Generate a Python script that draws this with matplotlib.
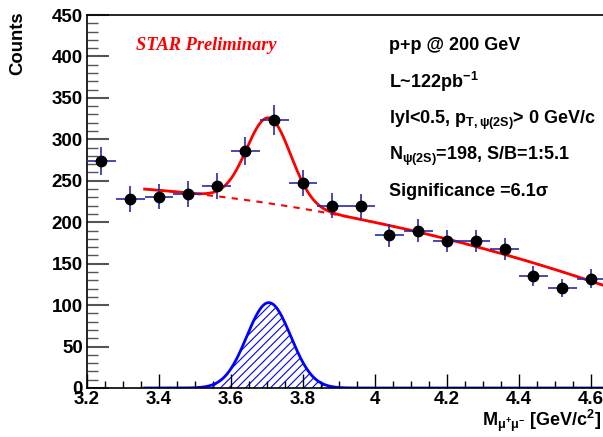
import numpy as np
import matplotlib
matplotlib.use("Agg")
import matplotlib.pyplot as plt
from matplotlib.ticker import MultipleLocator, FuncFormatter

plt.rcParams['font.family'] = ['Liberation Sans', 'DejaVu Sans']
plt.rcParams['font.weight'] = 'bold'
plt.rcParams['mathtext.fontset'] = 'custom'
plt.rcParams['mathtext.rm'] = 'Liberation Sans:bold'
plt.rcParams['mathtext.bf'] = 'Liberation Sans:bold'
plt.rcParams['mathtext.it'] = 'Liberation Sans:bold'
plt.rcParams['mathtext.default'] = 'bf'
plt.rcParams['hatch.color'] = '#0000ff'
plt.rcParams['hatch.linewidth'] = 0.8

# bin centres and counts (dimuon invariant mass)
mass = [3.24, 3.32, 3.40, 3.48, 3.56, 3.64, 3.72, 3.80, 3.88,
        3.96, 4.04, 4.12, 4.20, 4.28, 4.36, 4.44, 4.52, 4.60]
counts = [274, 228, 231, 234, 244, 286, 323, 247, 220,
          219, 184, 190, 177, 177, 168, 135, 121, 132]
count_err = [16.6, 15.1, 15.2, 15.3, 15.6, 16.9, 18.0, 15.7, 14.8,
             14.8, 13.6, 13.8, 13.3, 13.3, 13.0, 11.6, 11.0, 11.5]
BIN_HALF = 0.04

# fit parameters: quadratic background + gaussian signal
BG_PARAMS = [240.0, -34.3, -44.6]   # a + b*(m-3.36) + c*(m-3.36)^2
GAUS_AMP, GAUS_MEAN, GAUS_SIGMA = 103.0, 3.705, 0.061
FIT_RANGE = (3.36, 4.64)

RED = '#ff0000'
BLUE = '#0000ff'
ERR_COLOR = '#2a2aa8'


def background(m):
    d = m - FIT_RANGE[0]
    return BG_PARAMS[0] + BG_PARAMS[1] * d + BG_PARAMS[2] * d ** 2


def signal(m):
    return GAUS_AMP * np.exp(-0.5 * ((m - GAUS_MEAN) / GAUS_SIGMA) ** 2)


fig = plt.figure(figsize=(6.03, 4.37), dpi=100)
# axes run past the right edge of the canvas (right frame not visible)
ax = fig.add_axes([87 / 603, 1 - 388 / 437, 525 / 603, (388 - 15) / 437])

m = np.linspace(FIT_RANGE[0], FIT_RANGE[1], 400)

# signal component, hatched
ax.fill_between(m, 0, signal(m), facecolor='none', edgecolor=BLUE,
                hatch='////', linewidth=0)
ax.plot(m, signal(m), color=BLUE, lw=2)

# background (dashed) and total fit (solid)
ax.plot(m, background(m), color=RED, lw=1.5, ls=(0, (3, 3)))
ax.plot(m, background(m) + signal(m), color=RED, lw=2)

ax.errorbar(mass, counts, yerr=count_err, xerr=BIN_HALF, fmt='o',
            color='black', ecolor=ERR_COLOR, elinewidth=1.2, capsize=0,
            markersize=7.5, zorder=5)

ax.set_xlim(3.2, 3.2 + 525 / 360)
ax.set_ylim(0, 450)
ax.xaxis.set_major_locator(MultipleLocator(0.2))
ax.xaxis.set_minor_locator(MultipleLocator(0.05))
ax.yaxis.set_major_locator(MultipleLocator(50))
ax.yaxis.set_minor_locator(MultipleLocator(10))
ax.xaxis.set_major_formatter(FuncFormatter(lambda v, p: f"{v:g}"))

ax.tick_params(axis='x', which='major', direction='in', length=10, width=1,
               labelsize=13.5, pad=2, top=False)
ax.tick_params(axis='x', which='minor', direction='in', length=5, width=1, top=False)
ax.tick_params(axis='y', which='major', direction='in', length=16, width=1.5,
               color='#555555', labelsize=13.5, pad=3, right=False)
ax.tick_params(axis='y', which='minor', direction='in', length=8, width=1,
               color='#555555', right=False)
for lab in ax.get_xticklabels() + ax.get_yticklabels():
    lab.set_fontweight('bold')
ax.spines['right'].set_visible(False)
for s in ('left', 'bottom', 'top'):
    ax.spines[s].set_linewidth(1.2)

fig.text(18 / 603, 1 - 43 / 437, 'Counts', rotation=90, ha='center', va='center',
         fontsize=13.3, fontweight='bold')
fig.text(601 / 603, 1 - 421 / 437, r'M$_{\mu^{+}\mu^{-}}$ [GeV/c$^{2}$]',
         ha='right', va='center', fontsize=13, fontweight='bold')

fig.text(206 / 603, 1 - 45 / 437, 'STAR Preliminary', color=RED, ha='center',
         va='center', fontsize=13.2, fontweight='bold', style='italic',
         family='Liberation Serif')

x_txt = 389 / 603
lines = [
    (45, 'p+p @ 200 GeV'),
    (82, r'L~122pb$^{-1}$'),
    (120, r'lyl<0.5, p$_{T,ψ(2S)}$> 0 GeV/c'),
    (156, r'N$_{ψ(2S)}$=198, S/B=1:5.1'),
    (191, r'Significance =6.1σ'),
]
for y, s in lines:
    fig.text(x_txt, 1 - y / 437, s, ha='left', va='center', fontsize=13,
             fontweight='bold')

fig.savefig('out.png', dpi=100)
